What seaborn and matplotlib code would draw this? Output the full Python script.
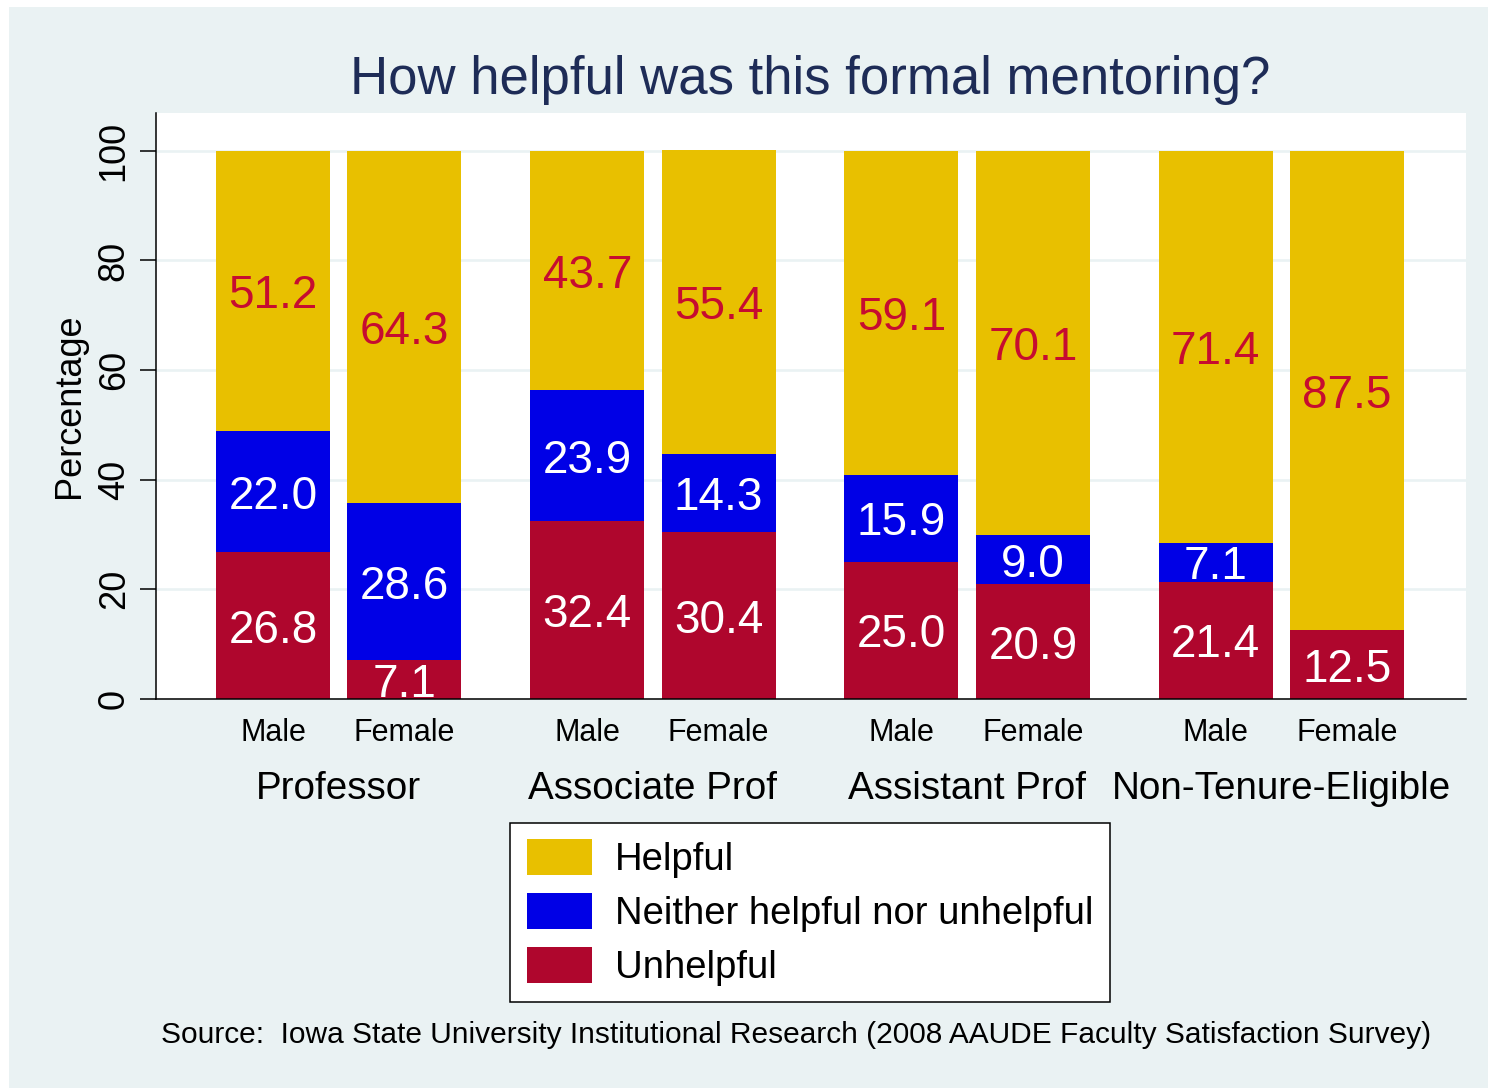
import pandas as pd
import seaborn as sns
import matplotlib.pyplot as plt
from matplotlib.patches import Patch, Rectangle
from matplotlib.transforms import blended_transform_factory

# data
ranks = ["Professor", "Associate Prof", "Assistant Prof", "Non-Tenure-Eligible"]
sexes = ["Male", "Female"]
helpful = [51.2, 64.3, 43.7, 55.4, 59.1, 70.1, 71.4, 87.5]
neither = [22.0, 28.6, 23.9, 14.3, 15.9, 9.0, 7.1, 0.0]
unhelpful = [26.8, 7.1, 32.4, 30.4, 25.0, 20.9, 21.4, 12.5]

# colours
c_help = "#E8C000"
c_neith = "#0000E6"
c_unhelp = "#AF062D"
c_bg = "#EAF2F3"

rows = []
for i, rank in enumerate(ranks):
    for j, sex in enumerate(sexes):
        k = i * 2 + j
        rows.append({"rank": rank, "sex": sex, "rank_idx": i, "sex_idx": j,
                     "helpful": helpful[k], "neither": neither[k],
                     "unhelpful": unhelpful[k]})
df = pd.DataFrame(rows)

group_gap = 2.39
df["pos"] = df["rank_idx"] * group_gap + df["sex_idx"]
df["top_n"] = df["unhelpful"] + df["neither"]
df["top_h"] = df["top_n"] + df["helpful"]

sns.set_theme(style="white")
plt.rcParams["font.family"] = ["Liberation Sans", "DejaVu Sans"]
plt.rcParams["text.color"] = "black"
plt.rcParams["axes.labelcolor"] = "black"
plt.rcParams["xtick.color"] = "black"
plt.rcParams["ytick.color"] = "black"

W, H = 1488, 1088
fig = plt.figure(figsize=(W / 100, H / 100), dpi=100, facecolor="white")
fig.add_artist(Rectangle((9 / W, 0), 1 - 9 / W, 1 - 7 / H, transform=fig.transFigure,
                         facecolor=c_bg, edgecolor="none", zorder=-10))

ax = fig.add_axes([156 / W, 1 - 699 / H, 1310 / W, 586 / H])
ax.set_facecolor("white")

# stacked bars drawn as cumulative totals, tallest first
for col, color in [("top_h", c_help), ("top_n", c_neith), ("unhelpful", c_unhelp)]:
    sns.barplot(data=df, x="pos", y=col, native_scale=True, width=0.867,
                color=color, saturation=1, linewidth=0, errorbar=None, ax=ax)

# value labels
for _, r in df.iterrows():
    segs = [(r["unhelpful"] / 2, r["unhelpful"], "white"),
            (r["unhelpful"] + r["neither"] / 2, r["neither"], "white"),
            (r["top_n"] + r["helpful"] / 2, r["helpful"], "#C60C30")]
    for y, v, tc in segs:
        if v > 0:
            ax.text(r["pos"], y, f"{v:.1f}", ha="center", va="center_baseline",
                    fontsize=33, color=tc)

ax.set_ylim(0, 106.9)
ax.set_xlim(-0.89, 3 * group_gap + 1 + 0.905)
ax.set_yticks([0, 20, 40, 60, 80, 100])
ax.set_yticklabels(["0", "20", "40", "60", "80", "100"], rotation=90, fontsize=26)
for lab in ax.get_yticklabels():
    lab.set_va("center")
ax.set_xticks(df["pos"])
ax.set_xticklabels(df["sex"], fontsize=22)
ax.tick_params(axis="x", length=0, pad=14)
ax.tick_params(axis="y", length=11.5, width=1.1, color="black", pad=6, left=True)
ax.set_xlabel("")
ax.set_ylabel("Percentage", fontsize=26, va="center")
ax.yaxis.set_label_coords((70 - 156) / 1310, 0.5)

ax.grid(axis="y", color=c_bg, linewidth=1.9)
ax.grid(axis="x", visible=False)
ax.set_axisbelow(True)
for side in ["top", "right"]:
    ax.spines[side].set_visible(False)
for side in ["left", "bottom"]:
    ax.spines[side].set_color("black")
    ax.spines[side].set_linewidth(1.1)

# group labels under the sex labels
tr = blended_transform_factory(ax.transData, fig.transFigure)
for i, rank in enumerate(ranks):
    ax.text(i * group_gap + 0.5, 1 - 789 / H, rank, transform=tr,
            ha="center", va="center", fontsize=27.8)

fig.text(810 / W, 1 - 80 / H, "How helpful was this formal mentoring?",
         ha="center", va="center", fontsize=38, color="#1E2C57")

handles = [Patch(facecolor=c_help, edgecolor="none"),
           Patch(facecolor=c_neith, edgecolor="none"),
           Patch(facecolor=c_unhelp, edgecolor="none")]
leg = fig.legend(handles, ["Helpful", "Neither helpful nor unhelpful", "Unhelpful"],
                 loc="center", bbox_to_anchor=(810 / W, 1 - 912.5 / H),
                 frameon=True, fancybox=False, framealpha=1, facecolor="white",
                 edgecolor="black", fontsize=27.5, handlelength=1.72, handleheight=1.05,
                 labelspacing=0.4, handletextpad=0.6, borderpad=0.42)
leg.get_frame().set_linewidth(1.1)

fig.text(796.5 / W, 1 - 1035 / H,
         "Source:  Iowa State University Institutional Research (2008 AAUDE Faculty Satisfaction Survey)",
         ha="center", va="center", fontsize=21.5)

fig.savefig("out.png", dpi=100, facecolor=fig.get_facecolor())
